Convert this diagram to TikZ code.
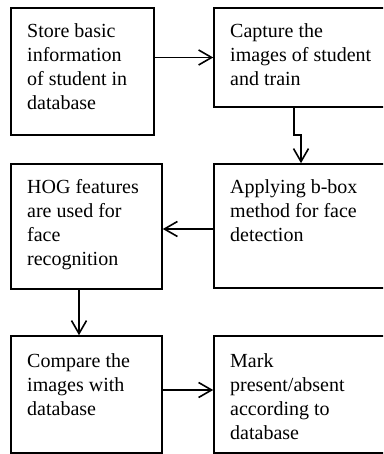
\documentclass[tikz,border=0pt]{standalone}
\usepackage{fontspec}
\setmainfont{Liberation Serif}
\usetikzlibrary{arrows.meta}
\begin{document}
\begin{tikzpicture}[x=1pt,y=1pt,
  stepbox/.style={draw=black,line width=1.6pt,rectangle,inner sep=0pt},
  txt/.style={anchor=north west,inner sep=0pt,align=left,font=\fontsize{20}{24}\selectfont},
  arr/.style={line width=1.6pt,-{Straight Barb[length=13pt,width=15pt,line width=1.6pt]}}]
\useasboundingbox (0,0) rectangle (383,454);
\begin{scope}
\clip (0,0) rectangle (383,454);
% boxes
\node[stepbox,minimum width=143pt,minimum height=127pt] (b1) at (82.5,382.5) {};
\node[stepbox,minimum width=181pt,minimum height=99pt] (b2) at (304.5,396.5) {};
\node[stepbox,minimum width=181pt,minimum height=124pt] (b3) at (304.5,228) {};
\node[stepbox,minimum width=151pt,minimum height=125pt] (b4) at (86.5,227.5) {};
\node[stepbox,minimum width=151pt,minimum height=117pt] (b5) at (86.5,59.5) {};
\node[stepbox,minimum width=181pt,minimum height=117pt] (b6) at (304.5,59.5) {};
% texts
\node[txt] (t1) at (27,430.7) {Store basic\\information\\of student in\\database};
\node[txt] (t2) at (230,430.7) {Capture the\\images of student\\and train};
\node[txt] (t3) at (230,274.7) {Applying b-box\\method for face\\detection};
\node[txt] (t4) at (27,274.7) {HOG features\\are used for\\face\\recognition};
\node[txt] (t5) at (27,100.7) {Compare the\\images with\\database};
\node[txt] (t6) at (230,100.7) {Mark\\present/absent\\according to\\database};
% connector helpers
\coordinate (j1) at (294,319);
\coordinate (j2) at (301,319);
\coordinate (h3) at (0,225);
\coordinate (v4) at (79,0);
\coordinate (h5) at (0,64);
% connectors
\draw[arr] (b1.east |- b2.west) -- (b2.west);
\draw[arr] (b2.south -| j1) -- (j1) -- (j2) -- (j2 |- b3.north);
\draw[arr] (b3.west |- h3) -- (b4.east |- h3);
\draw[arr] (b4.south -| v4) -- (b5.north -| v4);
\draw[arr] (b5.east |- h5) -- (b6.west |- h5);
\end{scope}
\end{tikzpicture}
\end{document}
